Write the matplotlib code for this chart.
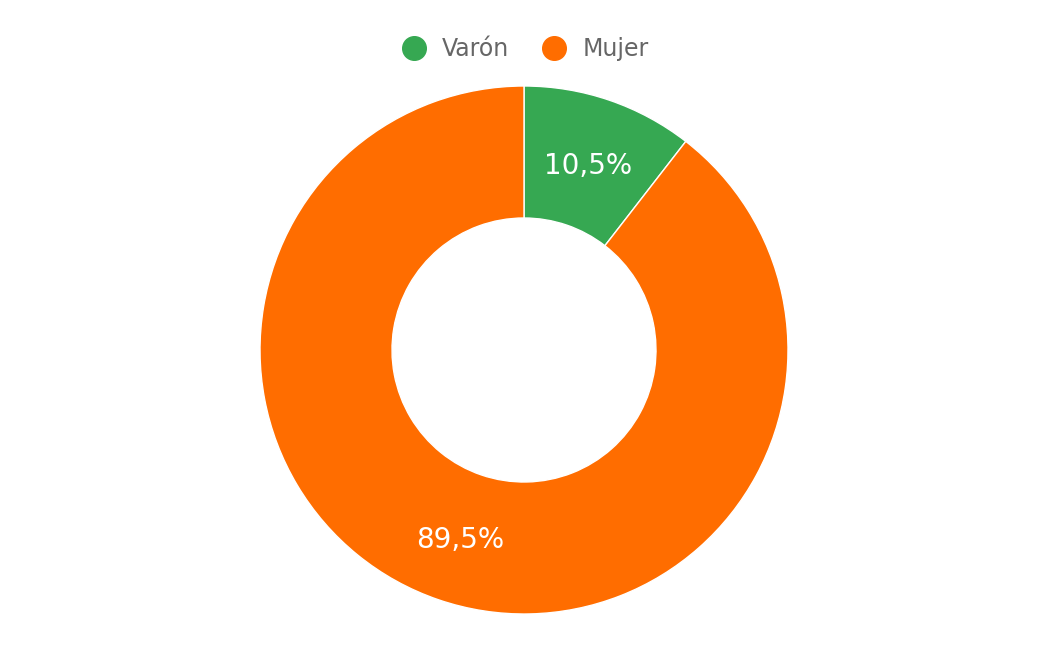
import matplotlib
matplotlib.use("Agg")
import matplotlib.pyplot as plt
from matplotlib.lines import Line2D
import numpy as np

plt.rcParams["font.family"] = ["DejaVu Sans"]

categories = ["Varón", "Mujer"]
values = [10.5, 89.5]
labels = ["10,5%", "89,5%"]
colors = ["#36A852", "#FF6D00"]

W, H = 1048, 646
CX, CY = 524, H - 350
R = 264

fig = plt.figure(figsize=(W / 100, H / 100), dpi=100)
ax = fig.add_axes([0, 0, 1, 1])

ax.pie(
    values,
    colors=colors,
    startangle=90,
    counterclock=False,
    center=(CX, CY),
    radius=R,
    wedgeprops=dict(width=R / 2, edgecolor="white", linewidth=1),
    frame=True,
)
ax.set_xlim(0, W)
ax.set_ylim(0, H)
ax.set_aspect("equal")
ax.axis("off")

# percentage labels in the middle of each ring segment
theta = 90.0
total = sum(values)
for v, lab in zip(values, labels):
    span = v / total * 360
    mid = np.deg2rad(theta - span / 2)
    theta -= span
    r = R * 0.75
    ax.text(CX + r * np.cos(mid), CY + r * np.sin(mid) - 3, lab,
            color="white", fontsize=20, ha="center", va="center")

handles = [Line2D([], [], marker="o", linestyle="", markersize=17,
                  markerfacecolor=c, markeredgecolor=c) for c in colors]
leg = fig.legend(handles, categories, loc="center", bbox_to_anchor=(0.5, 1 - 49 / H),
                 ncol=2, frameon=False, fontsize=17, handletextpad=0.6,
                 columnspacing=1.3, handlelength=1.2)
for t in leg.get_texts():
    t.set_color("#666666")

fig.savefig("out.png", dpi=100)
